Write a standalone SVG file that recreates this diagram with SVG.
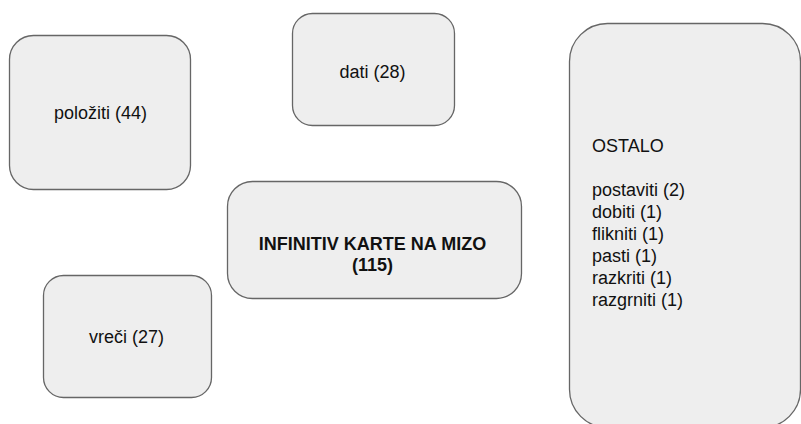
<svg xmlns="http://www.w3.org/2000/svg" width="801" height="424" viewBox="0 0 801 424">
<style>
.box{fill:#eeeeee;stroke:#666666;stroke-width:1.3}
text{font-family:"Liberation Sans",Arial,sans-serif;font-size:18px;fill:#111111}
.c{text-anchor:middle}
.b{font-weight:bold}
</style>
<rect width="801" height="424" fill="#ffffff"/>
<g id="connectors"></g>
<g id="polozhiti">
<rect class="box" x="9.5" y="35.5" width="181" height="154" rx="24"/>
<text class="c" x="100.5" y="119">položiti (44)</text>
</g>
<g id="dati">
<rect class="box" x="292.5" y="13.5" width="162" height="112" rx="20"/>
<text class="c" x="372.5" y="78">dati (28)</text>
</g>
<g id="center">
<rect class="box" x="227.5" y="181.5" width="294" height="117" rx="25"/>
<text class="c b" x="372.5" y="250">INFINITIV KARTE NA MIZO</text>
<text class="c b" x="372.5" y="271">(115)</text>
</g>
<g id="vreci">
<rect class="box" x="43.5" y="275.5" width="168" height="122" rx="20"/>
<text class="c" x="126.5" y="343">vreči (27)</text>
</g>
<g id="ostalo">
<rect class="box" x="569.5" y="23.5" width="231" height="404" rx="38"/>
<text x="592" y="152">OSTALO</text>
<text x="592" y="196">postaviti (2)</text>
<text x="592" y="218">dobiti (1)</text>
<text x="592" y="240">flikniti (1)</text>
<text x="592" y="262">pasti (1)</text>
<text x="592" y="284">razkriti (1)</text>
<text x="592" y="306">razgrniti (1)</text>
</g>
</svg>
